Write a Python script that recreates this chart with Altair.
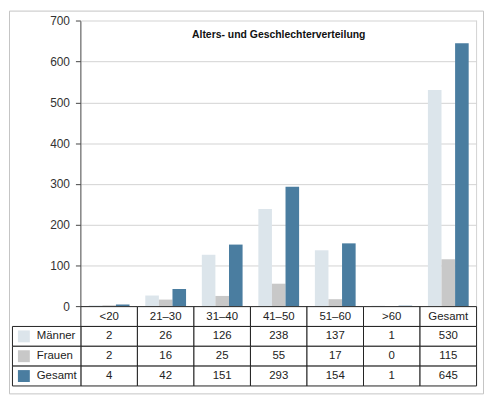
import altair as alt
import pandas as pd

# ---- data ----
kategorien = ["<20", "21–30", "31–40", "41–50", "51–60", ">60", "Gesamt"]
reihen = ["Männer", "Frauen", "Gesamt"]
maenner = [2, 26, 126, 238, 137, 1, 530]
frauen = [2, 16, 25, 55, 17, 0, 115]
gesamt = [4, 42, 151, 293, 154, 1, 645]
y_ticks = [0, 100, 200, 300, 400, 500, 600, 700]
titel = "Alters- und Geschlechterverteilung"

farben = ["#dce5eb", "#c8c8c8", "#4a7da0"]
FONT = "Liberation Sans"

werte = {"Männer": maenner, "Frauen": frauen, "Gesamt": gesamt}
bars_df = pd.DataFrame(
    [{"Kategorie": k, "Reihe": r, "Wert": werte[r][i]}
     for r in reihen for i, k in enumerate(kategorien)]
)

KOPF = "Altersgruppe"
zeilen = [KOPF] + reihen
table_df = pd.DataFrame(
    [{"Kategorie": k, "Zeile": KOPF, "Text": k} for k in kategorien]
    + [{"Kategorie": k, "Zeile": r, "Text": str(werte[r][i])}
       for r in reihen for i, k in enumerate(kategorien)]
)
legend_df = pd.DataFrame({"Zeile": reihen, "Spalte": ["Legende"] * len(reihen)})
rand_df = pd.DataFrame({"Kategorie": [kategorien[-1]]})

# ---- scales ----
x_plot = alt.Scale(domain=kategorien, range=[72.5, 471.5], paddingInner=0, paddingOuter=0)
y_plot = alt.Scale(domain=[0, 700], range=[298, 10.3], nice=False)
x_tab = alt.Scale(domain=kategorien, range=[72.5, 471.5], paddingInner=0, paddingOuter=0)
y_tab = alt.Scale(domain=zeilen, range=[298.5, 378.5], paddingInner=0, paddingOuter=0)
x_leg = alt.Scale(domain=["Legende"], range=[3.5, 72.5], paddingInner=0, paddingOuter=0)
y_leg = alt.Scale(domain=zeilen, range=[298.5, 378.5], paddingInner=0, paddingOuter=0)
farb_scale = alt.Scale(domain=reihen, range=farben)

# ---- bars ----
bars = alt.Chart(bars_df).mark_bar().encode(
    x=alt.X("Kategorie:N", scale=x_plot, axis=None),
    xOffset=alt.XOffset("Reihe:N", scale=alt.Scale(domain=reihen, paddingInner=0, paddingOuter=0.58)),
    y=alt.Y(
        "Wert:Q",
        scale=y_plot,
        axis=alt.Axis(
            values=y_ticks, offset=-72, title=None, grid=True,
            gridColor="#d2d2d2", gridWidth=1,
            domainColor="#444444", domainWidth=1,
            tickColor="#444444", tickSize=5, tickWidth=1,
            labelFont=FONT, labelFontSize=12, labelColor="#333333",
            labelPadding=6, format="d",
        ),
    ),
    color=alt.Color("Reihe:N", scale=farb_scale, legend=None),
)

rand = alt.Chart(rand_df).mark_rule(color="#d2d2d2", strokeWidth=1).encode(
    x=alt.X("Kategorie:N", scale=x_plot, axis=None, bandPosition=1),
    y=alt.datum(0),
    y2=alt.datum(700),
)

plot = alt.layer(bars, rand)

# ---- table ----
zellen = alt.Chart(table_df).mark_rect(color="white", stroke="#222222", strokeWidth=1).encode(
    x=alt.X("Kategorie:N", scale=x_tab, axis=None),
    y=alt.Y("Zeile:N", scale=y_tab, axis=None),
)
texte = alt.Chart(table_df).mark_text(
    font=FONT, fontSize=11.5, color="#222222", baseline="middle", align="center"
).encode(
    x=alt.X("Kategorie:N", scale=x_tab, axis=None),
    y=alt.Y("Zeile:N", scale=y_tab, axis=None),
    text="Text:N",
)
tabelle = alt.layer(zellen, texte)

# ---- legend column ----
leg_zellen = alt.Chart(legend_df).mark_rect(color="white", stroke="#222222", strokeWidth=1).encode(
    x=alt.X("Spalte:N", scale=x_leg, axis=None),
    y=alt.Y("Zeile:N", scale=y_leg, axis=None),
)
leg_sw = alt.Chart(legend_df).mark_square(size=144, opacity=1, xOffset=-23).encode(
    x=alt.X("Spalte:N", scale=x_leg, axis=None),
    y=alt.Y("Zeile:N", scale=y_leg, axis=None),
    color=alt.Color("Zeile:N", scale=farb_scale, legend=None),
)
leg_txt = alt.Chart(legend_df).mark_text(
    font=FONT, fontSize=11.5, color="#222222", baseline="middle", align="left", dx=-10
).encode(
    x=alt.X("Spalte:N", scale=x_leg, axis=None),
    y=alt.Y("Zeile:N", scale=y_leg, axis=None),
    text="Zeile:N",
)
legende = alt.layer(leg_zellen, leg_sw, leg_txt)

chart = (
    alt.layer(plot, tabelle, legende)
    .resolve_scale(x="independent", y="independent", color="independent")
    .properties(
        width=478,
        height=386,
        padding=1,
        autosize=alt.AutoSizeParams(type="none"),
        title=alt.Title(
            titel, font=FONT, fontSize=10.5, fontWeight="bold", color="#111111",
            anchor="middle", offset=-30, dx=33,
        ),
    )
    .configure_view(stroke="#c4c4c4", strokeWidth=1)
)

chart.save("out.html", embed_options={"renderer": "svg", "actions": False})
